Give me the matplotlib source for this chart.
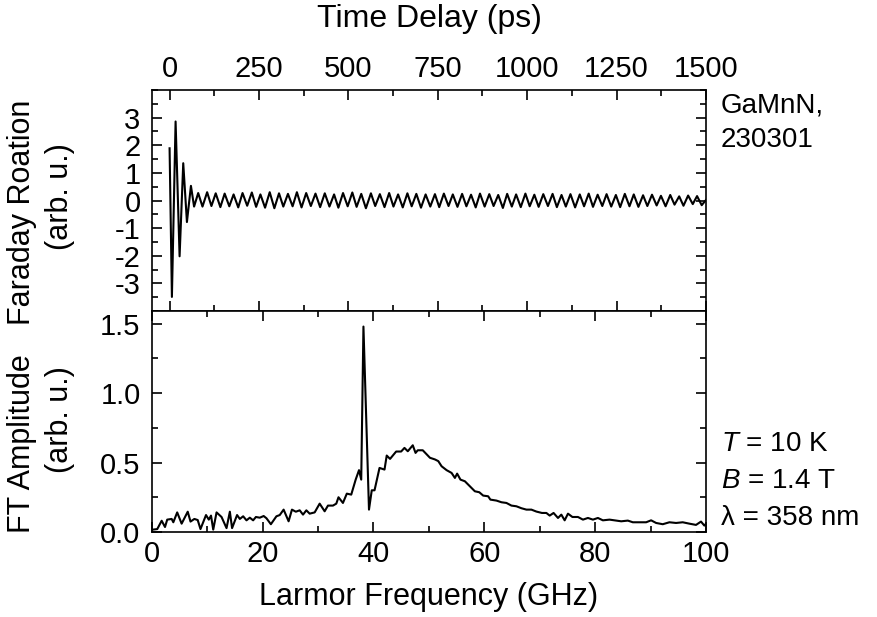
import numpy as np
import matplotlib
matplotlib.use("Agg")
import matplotlib.pyplot as plt
from matplotlib.ticker import MultipleLocator, FixedLocator

plt.rcParams['font.family'] = ['Liberation Sans', 'DejaVu Sans']
plt.rcParams['axes.unicode_minus'] = False
plt.rcParams['mathtext.fontset'] = 'custom'
plt.rcParams['mathtext.it'] = 'Liberation Sans:italic'
plt.rcParams['mathtext.rm'] = 'Liberation Sans'

# ---------------- data: time-resolved Faraday rotation ----------------
t_early = [0, 6.5, 16.8, 28, 38.2, 48.5, 59.7, 68.5]
fr_early = [1.89, -3.49, 2.86, -2.02, 1.35, -0.78, 0.53, -0.22]

t_peaks = [80, 105, 129, 154, 179, 204, 230, 254,
           280, 306, 331, 356, 382, 408, 434, 460,
           485, 511, 536, 563, 588, 614, 639, 665,
           690, 716, 742, 767, 792, 818, 843, 868,
           894, 919, 944, 969, 995, 1020, 1045, 1071,
           1096, 1121, 1147, 1172, 1197, 1222, 1248, 1273,
           1298, 1324, 1349, 1374, 1400, 1425, 1450, 1475]
fr_peaks = [0.27, 0.30, 0.26, 0.25, 0.22, 0.27, 0.29, 0.22,
            0.30, 0.26, 0.24, 0.30, 0.27, 0.25, 0.26, 0.22,
            0.27, 0.29, 0.24, 0.26, 0.23, 0.27, 0.22, 0.26,
            0.24, 0.22, 0.23, 0.25, 0.22, 0.24, 0.21, 0.25,
            0.23, 0.20, 0.24, 0.22, 0.25, 0.21, 0.23, 0.24,
            0.20, 0.23, 0.22, 0.25, 0.21, 0.23, 0.20, 0.24,
            0.22, 0.19, 0.21, 0.17, 0.20, 0.15, 0.18, 0.16]
t_troughs = [92, 117, 142, 167, 192, 217, 242, 267,
             293, 318, 344, 369, 395, 421, 447, 472,
             498, 523, 549, 575, 601, 626, 652, 677,
             703, 729, 754, 780, 805, 830, 856, 881,
             906, 932, 957, 982, 1007, 1032, 1058, 1083,
             1108, 1134, 1159, 1184, 1210, 1235, 1260, 1286,
             1311, 1336, 1362, 1387, 1412, 1437, 1463, 1488]
fr_troughs = [-0.22, -0.20, -0.24, -0.21, -0.25, -0.19, -0.23, -0.26,
              -0.28, -0.22, -0.21, -0.25, -0.20, -0.24, -0.22, -0.26,
              -0.21, -0.23, -0.28, -0.20, -0.24, -0.22, -0.25, -0.21,
              -0.26, -0.22, -0.24, -0.20, -0.23, -0.21, -0.25, -0.22,
              -0.20, -0.27, -0.22, -0.24, -0.21, -0.23, -0.20, -0.24,
              -0.22, -0.25, -0.21, -0.23, -0.20, -0.22, -0.24, -0.21,
              -0.23, -0.20, -0.18, -0.21, -0.15, -0.19, -0.13, -0.17]
t_end = [1500]
fr_end = [0.02]

# ---------------- data: FT spectrum ----------------
freq = [0.2, 1.0, 1.8, 2.4, 2.8, 3.6, 3.9, 4.6, 5.4, 6.5, 7.0, 7.7, 8.3, 8.8,
        9.8, 10.3, 10.7, 11.1, 11.7, 12.6, 13.5, 14.1, 14.5, 15.4, 15.9, 16.5,
        17.1, 17.7, 18.3, 18.8, 19.5, 20.2, 20.7, 21.5, 22.5, 23.1, 23.8, 24.7,
        25.3, 26.0, 26.7, 27.3, 27.9, 28.5, 29.4, 30.3, 31.2, 31.8, 32.7, 33.3,
        33.7, 34.5, 35.2, 36.0, 36.8, 37.4, 37.8, 38.2, 39.2, 39.7, 40.2, 41.1,
        42.0, 42.4, 43.0, 44.1, 45.0, 45.6, 46.2, 47.1, 47.6, 48.0, 48.9, 49.8,
        50.2, 51.1, 51.7, 52.3, 53.2, 54.1, 54.7, 55.1, 55.7, 56.5, 57.4, 58.3,
        59.1, 59.8, 60.7, 61.1, 62.2, 63.1, 64.0, 64.9, 65.8, 66.7, 67.6, 68.5,
        69.4, 70.4, 71.2, 71.8, 72.5, 73.3, 73.9, 74.5, 75.1, 75.9, 76.9, 77.8,
        78.7, 79.6, 80.5, 81.4, 82.6, 83.5, 84.7, 85.9, 86.8, 88.0, 89.2, 90.1,
        91.0, 92.2, 93.4, 94.6, 95.8, 97.0, 98.2, 99.1, 99.7, 100.0]
ft_amp = [0.017, 0.021, 0.081, 0.036, 0.089, 0.094, 0.070, 0.141, 0.060, 0.146, 0.075, 0.094, 0.086, 0.021,
          0.122, 0.089, 0.118, 0.017, 0.141, 0.108, 0.028, 0.146, 0.028, 0.122, 0.094, 0.113,
          0.084, 0.103, 0.084, 0.108, 0.103, 0.115, 0.099, 0.056, 0.113, 0.122, 0.161, 0.077,
          0.161, 0.146, 0.156, 0.125, 0.156, 0.132, 0.141, 0.204, 0.149, 0.190, 0.190, 0.204,
          0.250, 0.209, 0.276, 0.269, 0.377, 0.445, 0.377, 1.478, 0.161, 0.300, 0.300, 0.461,
          0.449, 0.550, 0.526, 0.579, 0.579, 0.605, 0.581, 0.624, 0.569, 0.588, 0.588, 0.550,
          0.534, 0.522, 0.510, 0.473, 0.445, 0.425, 0.389, 0.420, 0.377, 0.365, 0.329, 0.293,
          0.286, 0.262, 0.257, 0.233, 0.226, 0.214, 0.209, 0.190, 0.185, 0.171, 0.161, 0.161,
          0.147, 0.137, 0.137, 0.118, 0.137, 0.101, 0.125, 0.084, 0.132, 0.108, 0.108, 0.089,
          0.101, 0.089, 0.101, 0.084, 0.089, 0.084, 0.077, 0.082, 0.070, 0.070, 0.070, 0.084,
          0.065, 0.056, 0.070, 0.065, 0.070, 0.060, 0.051, 0.075, 0.046, 0.060]

top_xticks = [0, 250, 500, 750, 1000, 1250, 1500]
top_yticks = [-3, -2, -1, 0, 1, 2, 3]
bot_xticks = [0, 20, 40, 60, 80, 100]
bot_yticks = [0.0, 0.5, 1.0, 1.5]

# build the time trace (merge extrema in time order)
t_all = np.array(t_early + t_peaks + t_troughs + t_end, dtype=float)
fr_all = np.array(fr_early + fr_peaks + fr_troughs + fr_end, dtype=float)
order = np.argsort(t_all)
t_all, fr_all = t_all[order], fr_all[order]

W, H = 877, 617
fig = plt.figure(figsize=(W / 100, H / 100), dpi=100)

L, R = 151.7 / W, 706 / W
y_top, y_mid, y_bot = 1 - 90 / H, 1 - 311 / H, 1 - 532 / H
ax1 = fig.add_axes([L, y_mid, R - L, y_top - y_mid])
ax2 = fig.add_axes([L, y_bot, R - L, y_mid - y_bot])

lw = 1.5
for ax in (ax1, ax2):
    for s in ax.spines.values():
        s.set_linewidth(1.2)
    ax.tick_params(which='both', direction='in', top=True, right=True,
                   width=1.2, labelsize=21)
    ax.tick_params(which='major', length=7)
    ax.tick_params(which='minor', length=4)

# top panel
ax1.plot(t_all, fr_all, color='black', lw=lw)
ax1.set_xlim(-50, 1500)
ax1.set_ylim(-4, 4)
ax1.xaxis.set_major_locator(FixedLocator(top_xticks))
ax1.xaxis.set_minor_locator(MultipleLocator(125))
ax1.yaxis.set_major_locator(FixedLocator(top_yticks))
ax1.yaxis.set_minor_locator(MultipleLocator(0.5))
ax1.tick_params(axis='x', labeltop=True, labelbottom=False, pad=5)
ax1.tick_params(axis='y', pad=8)

# bottom panel
ax2.plot(freq, ft_amp, color='black', lw=lw)
ax2.set_xlim(0, 100)
ax2.set_ylim(0, 1.59)
ax2.xaxis.set_major_locator(FixedLocator(bot_xticks))
ax2.xaxis.set_minor_locator(MultipleLocator(10))
ax2.yaxis.set_major_locator(FixedLocator(bot_yticks))
ax2.yaxis.set_minor_locator(MultipleLocator(0.25))
ax2.yaxis.set_major_formatter(plt.FormatStrFormatter('%.1f'))
ax2.tick_params(axis='x', labeltop=False, pad=6)
ax2.tick_params(axis='y', pad=8)

def px(x, y):
    return x / W, 1 - y / H

fs_lab = 22
fig.text(*px(429, 19), 'Time Delay (ps)', ha='center', va='center', fontsize=23)
fig.text(*px(429, 597), 'Larmor Frequency (GHz)', ha='center', va='center', fontsize=fs_lab)
fig.text(*px(22, 212), 'Faraday Roation', rotation=90, ha='center', va='center', fontsize=fs_lab)
fig.text(*px(60, 197), '(arb. u.)', rotation=90, ha='center', va='center', fontsize=fs_lab)
fig.text(*px(22, 444), 'FT Amplitude', rotation=90, ha='center', va='center', fontsize=fs_lab)
fig.text(*px(60, 420), '(arb. u.)', rotation=90, ha='center', va='center', fontsize=fs_lab)

fs_ann = 20
fig.text(*px(721, 113), 'GaMnN,', ha='left', va='baseline', fontsize=fs_ann)
fig.text(*px(721, 147), '230301', ha='left', va='baseline', fontsize=fs_ann)
fig.text(*px(721, 451), '$T$ = 10 K', ha='left', va='baseline', fontsize=fs_ann)
fig.text(*px(721, 488), '$B$ = 1.4 T', ha='left', va='baseline', fontsize=fs_ann)
fig.text(*px(721, 525), 'λ = 358 nm', ha='left', va='baseline', fontsize=fs_ann)

fig.savefig('out.png', dpi=100)
